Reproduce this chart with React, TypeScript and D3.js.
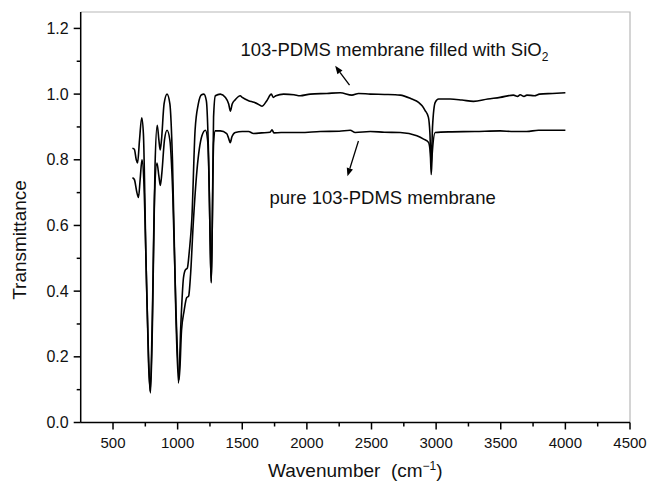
import { useEffect, useRef } from "react";
import * as d3 from "d3";

// FTIR spectra (wavenumber in cm-1, transmittance)
const sio2Wave = [650, 665, 680, 690, 705, 722, 735, 755, 775, 790, 805, 825, 842, 855, 865, 875, 895, 918, 940, 960, 985, 1007, 1025, 1045, 1060, 1075, 1090, 1110, 1135, 1160, 1185, 1203, 1222, 1240, 1252, 1260, 1268, 1278, 1292, 1330, 1370, 1395, 1408, 1422, 1446, 1484, 1500, 1549, 1590, 1620, 1652, 1690, 1725, 1740, 1760, 1820, 1900, 1948, 2026, 2155, 2258, 2348, 2400, 2490, 2600, 2722, 2812, 2864, 2890, 2915, 2940, 2952, 2962, 2972, 2993, 3019, 3108, 3200, 3289, 3400, 3495, 3598, 3630, 3650, 3680, 3702, 3760, 3800, 3900, 4000];
const sio2T = [0.835, 0.832, 0.8, 0.79, 0.86, 0.928, 0.88, 0.5, 0.18, 0.09, 0.3, 0.78, 0.905, 0.86, 0.83, 0.86, 0.97, 1.0, 0.97, 0.8, 0.35, 0.12, 0.3, 0.44, 0.465, 0.47, 0.52, 0.62, 0.89, 0.97, 0.998, 1.0, 0.98, 0.8, 0.55, 0.425, 0.6, 0.93, 0.995, 1.0, 0.99, 0.97, 0.948, 0.97, 0.983, 0.995, 0.99, 0.98, 0.975, 0.97, 0.963, 0.98, 1.0, 0.99, 0.995, 1.0, 0.998, 0.995, 1.0, 1.002, 1.004, 0.997, 1.002, 1.0, 0.999, 0.997, 0.985, 0.975, 0.965, 0.95, 0.93, 0.88, 0.78, 0.9, 0.975, 0.985, 0.985, 0.982, 0.978, 0.985, 0.99, 0.997, 0.993, 0.998, 0.993, 0.997, 0.995, 1.0, 1.002, 1.004];

const pureWave = [650, 665, 685, 697, 710, 724, 738, 758, 775, 788, 803, 822, 840, 855, 866, 878, 898, 918, 940, 962, 988, 1012, 1030, 1050, 1070, 1085, 1100, 1120, 1150, 1188, 1215, 1232, 1245, 1253, 1260, 1268, 1278, 1291, 1330, 1380, 1395, 1407, 1420, 1446, 1500, 1549, 1587, 1650, 1715, 1730, 1745, 1800, 1948, 2103, 2250, 2335, 2374, 2490, 2600, 2722, 2851, 2903, 2941, 2955, 2962, 2970, 2993, 3100, 3300, 3495, 3598, 3700, 3792, 4000];
const pureT = [0.745, 0.74, 0.7, 0.685, 0.74, 0.8, 0.74, 0.45, 0.2, 0.095, 0.3, 0.7, 0.79, 0.75, 0.722, 0.76, 0.86, 0.89, 0.86, 0.7, 0.33, 0.13, 0.28, 0.34, 0.38, 0.385, 0.45, 0.6, 0.77, 0.873, 0.89, 0.86, 0.7, 0.52, 0.43, 0.6, 0.85, 0.888, 0.888, 0.88, 0.865, 0.852, 0.87, 0.883, 0.886, 0.886, 0.88, 0.882, 0.884, 0.891, 0.882, 0.883, 0.883, 0.886, 0.887, 0.89, 0.883, 0.886, 0.884, 0.883, 0.873, 0.863, 0.853, 0.82, 0.755, 0.82, 0.883, 0.885, 0.886, 0.888, 0.886, 0.886, 0.89, 0.89];

const xTicks = [500, 1000, 1500, 2000, 2500, 3000, 3500, 4000, 4500];
const xMinor = [750, 1250, 1750, 2250, 2750, 3250, 3750, 4250];
const yTicks = [0, 0.2, 0.4, 0.6, 0.8, 1.0, 1.2];
const yMinor = [0.1, 0.3, 0.5, 0.7, 0.9, 1.1];

// labels with arrow start / tip, in data units
const labelText = ["103-PDMS membrane filled with SiO", "pure 103-PDMS membrane"];
const labelSub = ["2", ""];
const labelPos = [[1486, 1.117], [1711, 0.664]];
const arrowFrom = [[2330, 1.027], [2399, 0.857]];
const arrowTo = [[2219, 1.086], [2314, 0.75]];

const width = 647, height = 487;
const margin = { top: 12, right: 17, bottom: 64.5, left: 80.7 };
const font = "'Liberation Sans', Arial, sans-serif";

export default function App() {
  const ref = useRef<SVGSVGElement>(null);

  useEffect(() => {
    const svg = d3.select(ref.current);
    svg.selectAll("*").remove();

    const x = d3.scaleLinear().domain([250, 4500]).range([margin.left, width - margin.right]);
    const y = d3.scaleLinear().domain([0, 1.25]).range([height - margin.bottom, margin.top]);
    const x0 = x.range()[0], x1 = x.range()[1];
    const y0 = y.range()[0], y1 = y.range()[1];

    svg.append("rect").attr("width", width).attr("height", height).attr("fill", "#fff");

    // frame: light top and right edges
    svg.append("path")
      .attr("d", `M${x0},${y1}H${x1}V${y0}`)
      .attr("fill", "none").attr("stroke", "#b8b8b8").attr("stroke-width", 1.2);

    const line = d3.line<[number, number]>()
      .x(d => x(d[0])).y(d => y(d[1]))
      .curve(d3.curveMonotoneX);

    const series = [d3.zip(sio2Wave, sio2T), d3.zip(pureWave, pureT)];
    svg.selectAll("path.spec")
      .data(series).enter()
      .append("path")
      .attr("class", "spec")
      .attr("d", d => line(d as [number, number][]))
      .attr("fill", "none").attr("stroke", "#000").attr("stroke-width", 1.6)
      .attr("stroke-linejoin", "round");

    // axes
    const ax = svg.append("g").attr("stroke", "#000").attr("stroke-width", 1.5);
    ax.append("line").attr("x1", x0).attr("x2", x1).attr("y1", y0).attr("y2", y0);
    ax.append("line").attr("x1", x0).attr("x2", x0).attr("y1", y0).attr("y2", y1);
    xTicks.forEach(t => ax.append("line").attr("x1", x(t)).attr("x2", x(t)).attr("y1", y0).attr("y2", y0 + 7));
    xMinor.forEach(t => ax.append("line").attr("x1", x(t)).attr("x2", x(t)).attr("y1", y0).attr("y2", y0 + 4));
    yTicks.forEach(t => ax.append("line").attr("x1", x0 - 7).attr("x2", x0).attr("y1", y(t)).attr("y2", y(t)));
    yMinor.forEach(t => ax.append("line").attr("x1", x0 - 4).attr("x2", x0).attr("y1", y(t)).attr("y2", y(t)));

    const txt = svg.append("g").attr("font-family", font).attr("fill", "#111");
    txt.selectAll("text.xt").data(xTicks).enter().append("text")
      .attr("x", d => x(d)).attr("y", y0 + 25.5)
      .attr("text-anchor", "middle").attr("font-size", 15)
      .text(d => d);
    txt.selectAll("text.yt").data(yTicks).enter().append("text")
      .attr("x", x0 - 12).attr("y", d => y(d) + 5.5)
      .attr("text-anchor", "end").attr("font-size", 16)
      .text(d => d.toFixed(1));

    // axis titles
    txt.append("text")
      .attr("transform", `translate(26,240) rotate(-90)`)
      .attr("text-anchor", "middle").attr("font-size", 19)
      .text("Transmittance");
    const xt = txt.append("text")
      .attr("x", (x0 + x1) / 2).attr("y", 477)
      .attr("text-anchor", "middle").attr("font-size", 19);
    xt.append("tspan").text("Wavenumber\u00a0\u00a0(cm");
    xt.append("tspan").attr("font-size", 12).attr("dy", -7).text("\u22121");
    xt.append("tspan").attr("dy", 7).text(")");

    // annotations
    labelText.forEach((s, i) => {
      const t = txt.append("text")
        .attr("x", x(labelPos[i][0])).attr("y", y(labelPos[i][1]))
        .attr("font-size", 18.5);
      t.append("tspan").text(s);
      if (labelSub[i]) t.append("tspan").attr("font-size", 12).attr("dy", 5).text(labelSub[i]);

      const ax1 = x(arrowFrom[i][0]), ay1 = y(arrowFrom[i][1]);
      const ax2 = x(arrowTo[i][0]), ay2 = y(arrowTo[i][1]);
      const ang = Math.atan2(ay2 - ay1, ax2 - ax1);
      const hl = 8, hw = 3.2;
      const bx = ax2 - hl * Math.cos(ang), by = ay2 - hl * Math.sin(ang);
      svg.append("line")
        .attr("x1", ax1).attr("y1", ay1).attr("x2", bx).attr("y2", by)
        .attr("stroke", "#000").attr("stroke-width", 1.3);
      svg.append("path")
        .attr("d", `M${ax2},${ay2}L${bx + hw * Math.sin(ang)},${by - hw * Math.cos(ang)}L${bx - hw * Math.sin(ang)},${by + hw * Math.cos(ang)}Z`)
        .attr("fill", "#000");
    });
  }, []);

  return (
    <svg ref={ref} width={width} height={height}
      style={{ position: "absolute", left: 0, top: 0 }} />
  );
}
